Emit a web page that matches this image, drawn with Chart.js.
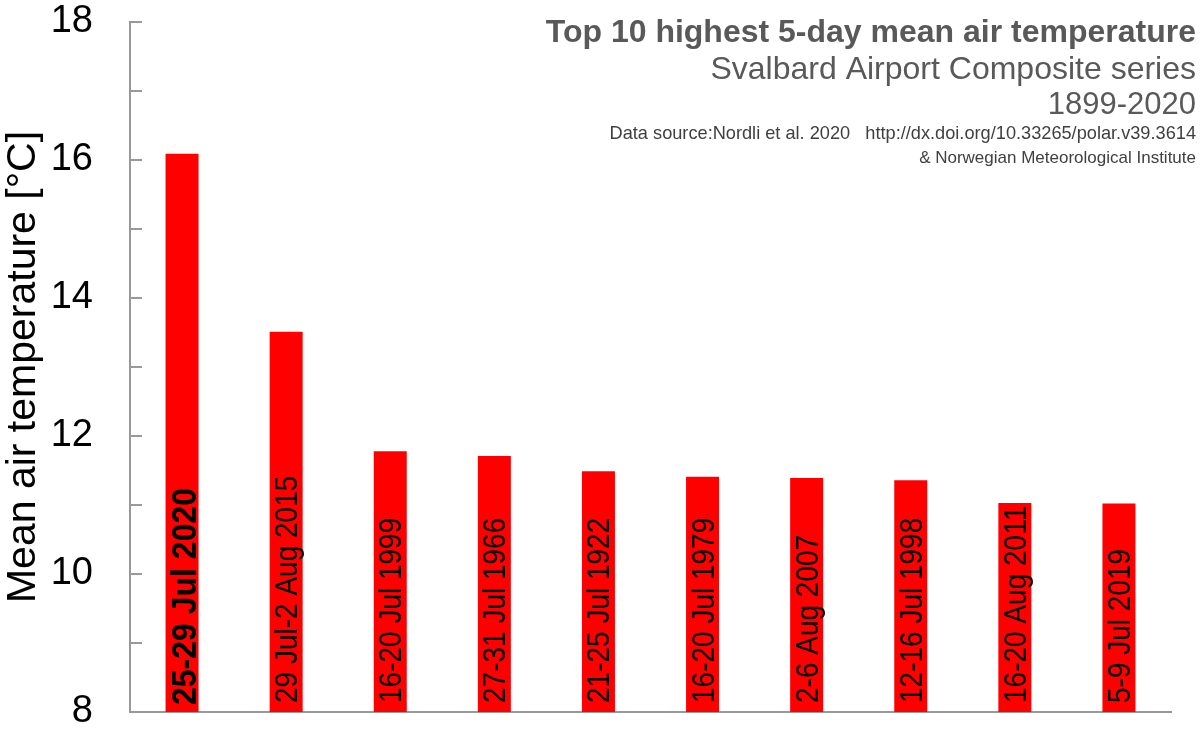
<!DOCTYPE html>
<html>
<head>
<meta charset="utf-8">
<script src="https://cdn.jsdelivr.net/npm/chart.js@4.4.0/dist/chart.umd.min.js"></script>
<style>
  html, body { margin: 0; padding: 0; background: #ffffff; }
  #wrap { width: 1200px; height: 739px; position: relative; }
</style>
</head>
<body>
<div id="wrap"><canvas id="c" width="1200" height="739"></canvas></div>
<script>
// ---- data ----
const periods = [
  "25-29 Jul 2020", "29 Jul-2 Aug 2015", "16-20 Jul 1999", "27-31 Jul 1966",
  "21-25 Jul 1922", "16-20 Jul 1979", "2-6 Aug 2007", "12-16 Jul 1998",
  "16-20 Aug 2011", "5-9 Jul 2019"
];
const meanTemp = [16.09, 13.51, 11.78, 11.71, 11.49, 11.41, 11.39, 11.36, 11.03, 11.02];
const yTickValues = [8, 10, 12, 14, 16, 18];
const titleLines = [
  "Top 10 highest 5-day mean air temperature",
  "Svalbard Airport Composite series",
  "1899-2020"
];
const sourceLines = [
  "Data source:Nordli et al. 2020   http://dx.doi.org/10.33265/polar.v39.3614",
  "& Norwegian Meteorological Institute"
];
const yAxisTitle = "Mean air temperature [\u00B0C]";

const FONT = "'Liberation Sans', Arial, Helvetica, sans-serif";
const AXIS_GRAY = "#999999";

// minor+major inward ticks on y axis
const innerTicks = {
  id: 'innerTicks',
  afterDraw(chart) {
    const y = chart.scales.y;
    const ctx = chart.ctx;
    ctx.save();
    ctx.strokeStyle = AXIS_GRAY;
    ctx.lineWidth = 2;
    for (let v = y.min; v <= y.max; v += 1) {
      const py = Math.round(y.getPixelForValue(v));
      ctx.beginPath();
      ctx.moveTo(y.right - 1, py);
      ctx.lineTo(y.right + 12, py);
      ctx.stroke();
    }
    ctx.restore();
  }
};

// rotated labels inside bars
const barLabels = {
  id: 'barLabels',
  afterDatasetsDraw(chart) {
    const ctx = chart.ctx;
    const xs = chart.scales.x;
    const ys = chart.scales.y;
    const basePx = ys.getPixelForValue(ys.min);
    periods.forEach((label, i) => {
      const cx = xs.getPixelForValue(i);
      const bold = i === 0;
      const s = bold ? 1.1 : 1.1;
      const off = bold ? 14 : 11;
      ctx.save();
      ctx.translate(cx, basePx - (bold ? 7 : 9));
      ctx.rotate(-Math.PI / 2);
      ctx.scale(1, s);
      ctx.fillStyle = "#000000";
      ctx.textAlign = "left";
      ctx.textBaseline = "alphabetic";
      ctx.font = (bold ? "bold 32px " : "28px ") + FONT;
      ctx.fillText(label, 0, off / s);
      ctx.restore();
    });
  }
};

// title block, right aligned
const titleBlock = {
  id: 'titleBlock',
  afterDraw(chart) {
    const ctx = chart.ctx;
    const xr = 1196;
    ctx.save();
    ctx.textAlign = "right";
    ctx.textBaseline = "alphabetic";
    ctx.fillStyle = "#595959";
    ctx.font = "bold 32px " + FONT;
    ctx.fillText(titleLines[0], xr, 42);
    ctx.font = "32px " + FONT;
    ctx.fillText(titleLines[1], xr, 79);
    ctx.font = "31px " + FONT;
    ctx.fillText(titleLines[2], xr, 114);
    ctx.fillStyle = "#404040";
    ctx.font = "18.2px " + FONT;
    ctx.fillText(sourceLines[0], xr, 139);
    ctx.font = "17px " + FONT;
    ctx.fillText(sourceLines[1], xr, 163);
    ctx.restore();
  }
};

new Chart(document.getElementById('c'), {
  type: 'bar',
  data: {
    labels: periods,
    datasets: [{
      data: meanTemp,
      backgroundColor: '#ff0000',
      borderWidth: 0,
      barPercentage: 0.317,
      categoryPercentage: 1.0
    }]
  },
  options: {
    responsive: false,
    animation: false,
    devicePixelRatio: 1,
    layout: { padding: { top: 22, right: 29, left: 0, bottom: 0 } },
    plugins: {
      legend: { display: false },
      tooltip: { enabled: false },
      title: { display: false }
    },
    scales: {
      x: {
        grid: { display: true, drawOnChartArea: false, drawTicks: false },
        border: { display: true, color: AXIS_GRAY, width: 2 },
        ticks: { display: false },
        afterFit(scale) {
          scale.height = 27;
          scale.paddingLeft = 0; scale.paddingRight = 0;
          scale.paddingTop = 0; scale.paddingBottom = 0;
        }
      },
      y: {
        min: 8,
        max: 18,
        afterBuildTicks(scale) {
          scale.ticks = yTickValues.map(v => ({ value: v }));
        },
        grid: { display: true, drawOnChartArea: false, drawTicks: false },
        border: { display: true, color: AXIS_GRAY, width: 2 },
        ticks: {
          color: '#000000',
          padding: 37,
          font: { family: FONT, size: 38, lineHeight: 1 },
          callback: (v) => String(v)
        },
        title: {
          display: true,
          text: yAxisTitle,
          color: '#000000',
          font: { family: FONT, size: 41, lineHeight: 1 },
          padding: { top: 3, bottom: 0 }
        },
        afterFit(scale) {
          scale.width = 130;
          scale.paddingTop = 0; scale.paddingBottom = 0;
          scale.paddingLeft = 0; scale.paddingRight = 0;
        }
      }
    }
  },
  plugins: [innerTicks, barLabels, titleBlock]
});
</script>
</body>
</html>
